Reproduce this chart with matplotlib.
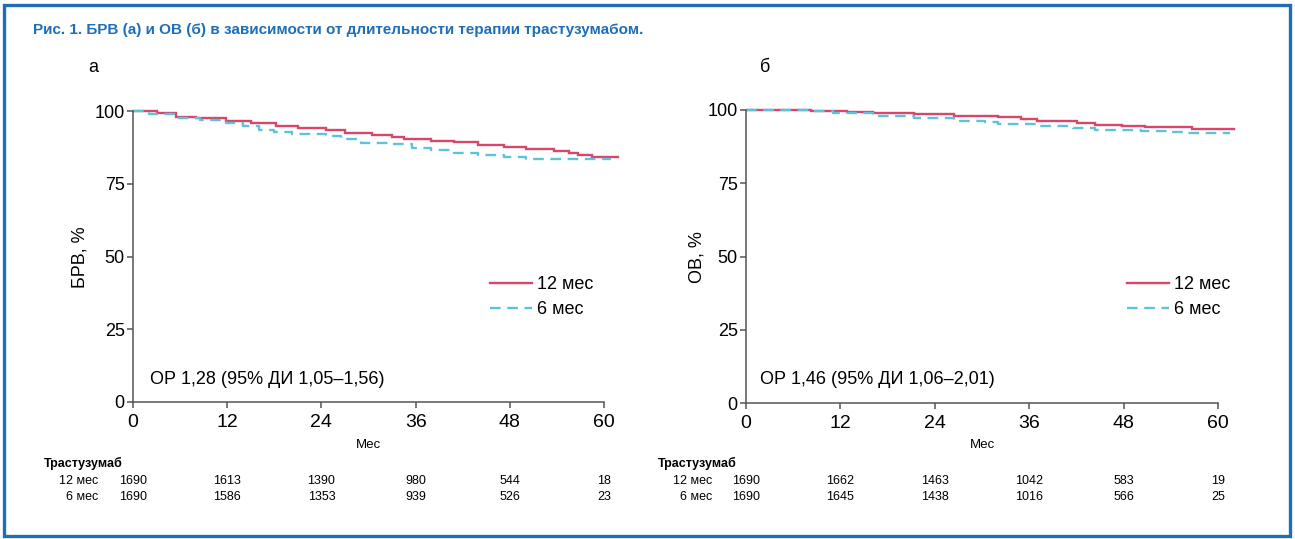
import matplotlib
matplotlib.use("Agg")
import matplotlib.pyplot as plt
from matplotlib import font_manager
from matplotlib.patches import Rectangle
from matplotlib.transforms import blended_transform_factory

# ---------------- data ----------------
# Panel а: БРВ (disease-free survival), step curves
dfs_t_12 = [0, 3, 5.5, 8, 11.8, 15, 18.2, 21, 24.6, 27, 30.5, 33, 34.5, 38, 40.9, 44, 47.3, 50, 53.6, 55.5, 56.7, 58.5, 61.8]
dfs_s_12 = [100, 99.3, 98.1, 97.5, 96.7, 95.8, 94.8, 94.2, 93.3, 92.5, 91.8, 91.0, 90.4, 89.8, 89.3, 88.4, 87.6, 87.0, 86.1, 85.5, 85.0, 84.1, 84.1]
dfs_t_6 = [0, 2, 5.5, 8.5, 11.8, 14, 16, 18, 20.3, 24.6, 26.5, 29, 33, 35.5, 38, 40.9, 44, 47.3, 50, 53.6, 60.9]
dfs_s_6 = [100, 99.0, 97.7, 96.8, 95.9, 94.8, 93.6, 92.8, 92.2, 91.3, 90.3, 89.0, 88.6, 87.3, 86.5, 85.7, 85.0, 84.2, 83.6, 83.4, 83.4]

# Panel б: ОВ (overall survival)
os_t_12 = [0, 8.3, 12.8, 16.2, 21.3, 26.4, 32, 35, 37, 42, 44.4, 47.8, 50.7, 53.3, 56.7, 62]
os_s_12 = [100, 99.7, 99.4, 99.0, 98.6, 98.1, 97.5, 96.9, 96.4, 95.7, 95.0, 94.7, 94.3, 94.1, 93.6, 93.6]
os_t_6 = [0, 8.3, 11, 16.2, 21.3, 26.4, 30.4, 32, 37, 41.5, 44.3, 50.2, 53.6, 55.5, 61.5]
os_s_6 = [100, 99.6, 98.9, 98.1, 97.3, 96.4, 96.0, 95.2, 94.7, 93.9, 93.3, 92.7, 92.4, 92.0, 92.0]

months = [0, 12, 24, 36, 48, 60]
y_ticks = [0, 25, 50, 75, 100]

risk_dfs_12 = [1690, 1613, 1390, 980, 544, 18]
risk_dfs_6 = [1690, 1586, 1353, 939, 526, 23]
risk_os_12 = [1690, 1662, 1463, 1042, 583, 19]
risk_os_6 = [1690, 1645, 1438, 1016, 566, 25]

series_labels = ["12 мес", "6 мес"]
title = "Рис. 1. БРВ (а) и ОВ (б) в зависимости от длительности терапии трастузумабом."
hr_a = "ОР 1,28 (95% ДИ 1,05–1,56)"
hr_b = "ОР 1,46 (95% ДИ 1,06–2,01)"

# ---------------- style ----------------
RED = "#d6476a"
CYAN = "#5cc3db"
FRAME_BLUE = "#1f6eb8"
AXC = "#555555"

avail = {f.name for f in font_manager.fontManager.ttflist}
NARROW = "Liberation Sans Narrow" if "Liberation Sans Narrow" in avail else "Liberation Sans"
plt.rcParams["font.family"] = ["Liberation Sans", "DejaVu Sans"]

W, H = 1295, 539
fig = plt.figure(figsize=(W / 100, H / 100), dpi=100)
fig.patch.set_facecolor("white")


def fx(x):
    return x / W


def fy(y):
    return 1 - y / H


# frame
fig.add_artist(Rectangle((fx(4), fy(536)), fx(1290) - fx(4), fy(5) - fy(536),
                         transform=fig.transFigure, fill=False,
                         edgecolor=FRAME_BLUE, linewidth=2.4))

fig.text(fx(33), fy(30), title, color=FRAME_BLUE, fontsize=11,
         fontweight="bold", family=[NARROW, "DejaVu Sans"], va="center", ha="left")

panels = [
    dict(rect=(133, 402, 7.85, 2.91), t12=dfs_t_12, s12=dfs_s_12, t6=dfs_t_6, s6=dfs_s_6,
         r12=risk_dfs_12, r6=risk_dfs_6, letter="а", ylabel="БРВ, %", hr=hr_a,
         letter_x=88, ylabel_x=80, hr_x=150, leg_x=490, tbl_x=44, row_x=98),
    dict(rect=(746, 403, 7.87, 2.93), t12=os_t_12, s12=os_s_12, t6=os_t_6, s6=os_s_6,
         r12=risk_os_12, r6=risk_os_6, letter="б", ylabel="ОВ, %", hr=hr_b,
         letter_x=760, ylabel_x=697, hr_x=760, leg_x=1127, tbl_x=658, row_x=712),
]

XMAX, YMAX = 62.5, 102
for p in panels:
    x0, y0, sx, sy = p["rect"]
    left = fx(x0)
    width = XMAX * sx / W
    bottom = fy(y0)
    height = YMAX * sy / H
    ax = fig.add_axes([left, bottom, width, height])
    ax.set_xlim(0, XMAX)
    ax.set_ylim(0, YMAX)
    ax.step(p["t12"], p["s12"], where="post", color=RED, lw=1.7,
            label=series_labels[0], solid_joinstyle="miter")
    ax.step(p["t6"], p["s6"], where="post", color=CYAN, lw=1.7,
            linestyle=(0, (4.5, 2.8)), label=series_labels[1])
    for s in ["top", "right"]:
        ax.spines[s].set_visible(False)
    for s in ["left", "bottom"]:
        ax.spines[s].set_color(AXC)
        ax.spines[s].set_linewidth(1.1)
    ax.spines["left"].set_bounds(0, 100)
    ax.spines["bottom"].set_bounds(0, 60)
    ax.set_xticks(months)
    ax.set_yticks(y_ticks)
    ax.tick_params(axis="both", direction="out", length=4.5, width=1.1, color=AXC)
    ax.tick_params(axis="x", labelsize=14, pad=4)
    ax.tick_params(axis="y", labelsize=13, pad=1.5)
    ax.patch.set_alpha(0)

    # legend
    ax.legend(loc="upper left", bbox_to_anchor=(fx(p["leg_x"]), fy(276)),
              bbox_transform=fig.transFigure, frameon=False, fontsize=13,
              handlelength=2.3, handletextpad=0.3, labelspacing=0.45,
              borderpad=0, borderaxespad=0)

    fig.text(fx(p["letter_x"]), fy(68), p["letter"], fontsize=13, va="center", ha="left")
    fig.text(fx(p["ylabel_x"]), fy(257), p["ylabel"], fontsize=13, rotation=90,
             va="center", ha="center")
    fig.text(fx(p["hr_x"]), fy(380), p["hr"], fontsize=13, va="center", ha="left")
    fig.text(fx(x0 + 30 * sx), fy(445), "Мес", fontsize=9.5,
             family=[NARROW, "DejaVu Sans"], va="center", ha="center")

    # number-at-risk table
    fig.text(fx(p["tbl_x"]), fy(463), "Трастузумаб", fontsize=9, fontweight="bold",
             family=[NARROW, "DejaVu Sans"], va="center", ha="left")
    fig.text(fx(p["row_x"]), fy(481), series_labels[0], fontsize=9,
             family=[NARROW, "DejaVu Sans"], va="center", ha="right")
    fig.text(fx(p["row_x"]), fy(497), series_labels[1], fontsize=9,
             family=[NARROW, "DejaVu Sans"], va="center", ha="right")
    tr = blended_transform_factory(ax.transData, fig.transFigure)
    for m, a, b in zip(months, p["r12"], p["r6"]):
        ax.text(m, fy(481), str(a), transform=tr, fontsize=9, ha="center", va="center",
                family=[NARROW, "DejaVu Sans"], clip_on=False)
        ax.text(m, fy(497), str(b), transform=tr, fontsize=9, ha="center", va="center",
                family=[NARROW, "DejaVu Sans"], clip_on=False)

fig.savefig("out.png", dpi=100, facecolor="white")
